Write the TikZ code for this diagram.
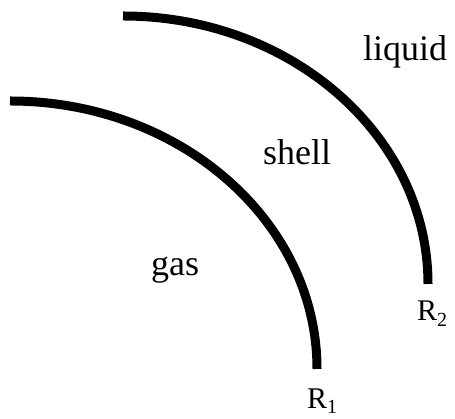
\documentclass[tikz,border=0pt]{standalone}
\usepackage{fontspec}
\setmainfont{Liberation Serif}
\begin{document}
\begin{tikzpicture}[x=1pt,y=1pt,
  wall/.style={line width=9pt},
  lbl/.style={anchor=base west, inner sep=0pt, font=\fontsize{36}{40}\selectfont},
  rlbl/.style={anchor=base west, inner sep=0pt, font=\fontsize{30}{34}\selectfont}]
\useasboundingbox (0,0) rectangle (455,419);
\draw[wall] (10,318) arc[start angle=90, end angle=0, x radius=307, y radius=268];
\draw[wall] (123,403) arc[start angle=90, end angle=0, x radius=305, y radius=268];
\node[lbl] (gas) at (151,143) {gas};
\node[lbl] (shell) at (263,254) {shell};
\node[lbl] (liquid) at (363,358) {liquid};
\node[rlbl] (r1) at (307,10) {R\raisebox{-5pt}{\fontsize{20}{20}\selectfont 1}};
\node[rlbl] (r2) at (417,98) {R\raisebox{-6pt}{\fontsize{20}{20}\selectfont 2}};
\end{tikzpicture}
\end{document}
